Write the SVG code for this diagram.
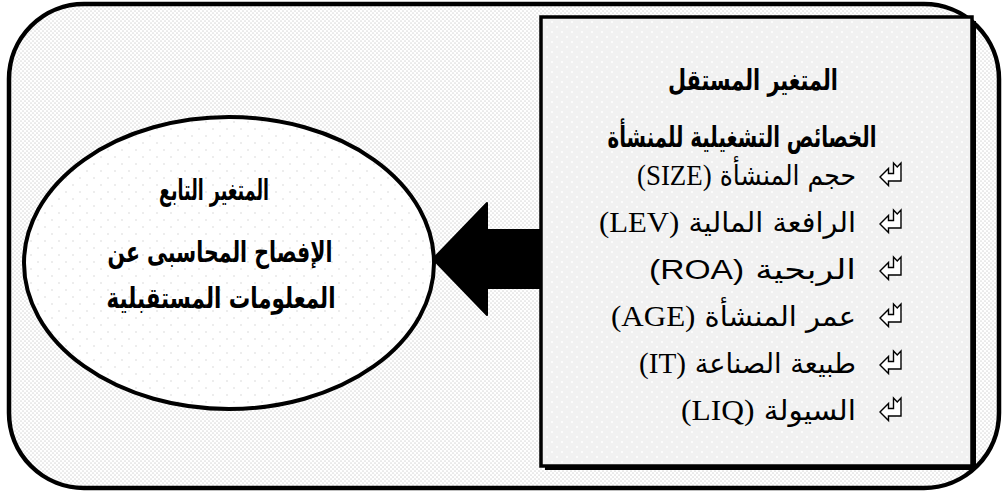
<svg xmlns="http://www.w3.org/2000/svg" width="1005" height="495" viewBox="0 0 1005 495">
<style>
.h{font-family:"DejaVu Sans","Liberation Sans",sans-serif;font-weight:bold;font-size:29px;fill:#000}
.it{font-family:"DejaVu Sans","Liberation Serif",serif;font-size:28px;fill:#000}
.lat{font-family:"Liberation Serif",serif;font-size:30px}
.sans{font-family:"Liberation Sans",sans-serif;font-size:27px}
.bul{fill:#fff;stroke:#000;stroke-width:1.4;stroke-linejoin:miter}
</style>
<defs>
<pattern id="pOuter" width="4" height="4" patternUnits="userSpaceOnUse">
<rect width="4" height="4" fill="#fff"/>
<circle cx="1" cy="1" r="0.85" fill="#dadada"/>
<circle cx="3" cy="3" r="0.85" fill="#dadada"/>
</pattern>
<pattern id="pBox" width="10" height="10" patternUnits="userSpaceOnUse">
<rect width="10" height="10" fill="#f1f1f1"/>
<circle cx="2" cy="2" r="1" fill="#fff"/>
<circle cx="7" cy="7" r="1" fill="#fff"/>
</pattern>
<pattern id="pEll" width="14" height="14" patternUnits="userSpaceOnUse">
<rect width="14" height="14" fill="#fff"/>
<circle cx="3" cy="3" r="1" fill="#e8e8e8"/>
<circle cx="10" cy="10" r="1" fill="#e8e8e8"/>
</pattern>
<path id="bullet" class="bul" d="M22,0 L22,18 L9.5,18 L9.5,22.5 L1,14 L9.5,5.5 L9.5,10.5 L14.5,10.5 L14.5,0 L18.25,4 Z"/>
</defs>

<g id="frame">
<rect x="9" y="4" width="990" height="484" rx="75" ry="75" fill="url(#pOuter)" stroke="#000" stroke-width="4.5"/>
</g>

<g id="connectors">
<path d="M540,230 L487,230 L487,203 L433,259 L487,315 L487,288 L540,288 Z" fill="#000" stroke="#000" stroke-width="2" stroke-linejoin="round"/>
</g>

<g id="dependent">
<ellipse cx="229" cy="263" rx="205" ry="146" fill="url(#pEll)" stroke="#000" stroke-width="4"/>
<text class="h" x="214" y="200" text-anchor="middle" direction="rtl" textLength="110" lengthAdjust="spacingAndGlyphs">المتغير التابع</text>
<text class="h" x="220" y="262" text-anchor="middle" direction="rtl" textLength="225" lengthAdjust="spacingAndGlyphs">الإفصاح المحاسبى عن</text>
<text class="h" x="221" y="308" text-anchor="middle" direction="rtl" textLength="229" lengthAdjust="spacingAndGlyphs">المعلومات المستقبلية</text>
</g>

<g id="independent">
<rect x="545" y="21" width="431" height="449" fill="#000"/>
<rect x="541" y="17" width="431" height="449" fill="url(#pBox)" stroke="#000" stroke-width="3.5"/>
<text class="h" x="753" y="90" text-anchor="middle" direction="rtl" textLength="170" lengthAdjust="spacingAndGlyphs">المتغير المستقل</text>
<text class="h" x="742" y="147" text-anchor="middle" direction="rtl" textLength="269" lengthAdjust="spacingAndGlyphs">الخصائص التشغيلية للمنشأة</text>

<use href="#bullet" x="879" y="163"/>
<text class="it" x="856" y="185" text-anchor="start" direction="rtl" textLength="219" lengthAdjust="spacingAndGlyphs">حجم المنشأة <tspan class="lat">(SIZE)</tspan></text>
<use href="#bullet" x="879" y="210"/>
<text class="it" x="856" y="232" text-anchor="start" direction="rtl" textLength="257" lengthAdjust="spacingAndGlyphs">الرافعة المالية <tspan class="lat">(LEV)</tspan></text>
<use href="#bullet" x="879" y="257"/>
<text class="it" x="856" y="279" text-anchor="start" direction="rtl" textLength="207" lengthAdjust="spacingAndGlyphs">الربحية <tspan class="sans">(ROA)</tspan></text>
<use href="#bullet" x="879" y="304"/>
<text class="it" x="856" y="326" text-anchor="start" direction="rtl" textLength="245" lengthAdjust="spacingAndGlyphs">عمر المنشأة <tspan class="lat">(AGE)</tspan></text>
<use href="#bullet" x="879" y="351"/>
<text class="it" x="856" y="373" text-anchor="start" direction="rtl" textLength="217" lengthAdjust="spacingAndGlyphs">طبيعة الصناعة <tspan class="lat">(IT)</tspan></text>
<use href="#bullet" x="879" y="398"/>
<text class="it" x="856" y="420" text-anchor="start" direction="rtl" textLength="175" lengthAdjust="spacingAndGlyphs">السيولة <tspan class="lat">(LIQ)</tspan></text>
</g>
</svg>
